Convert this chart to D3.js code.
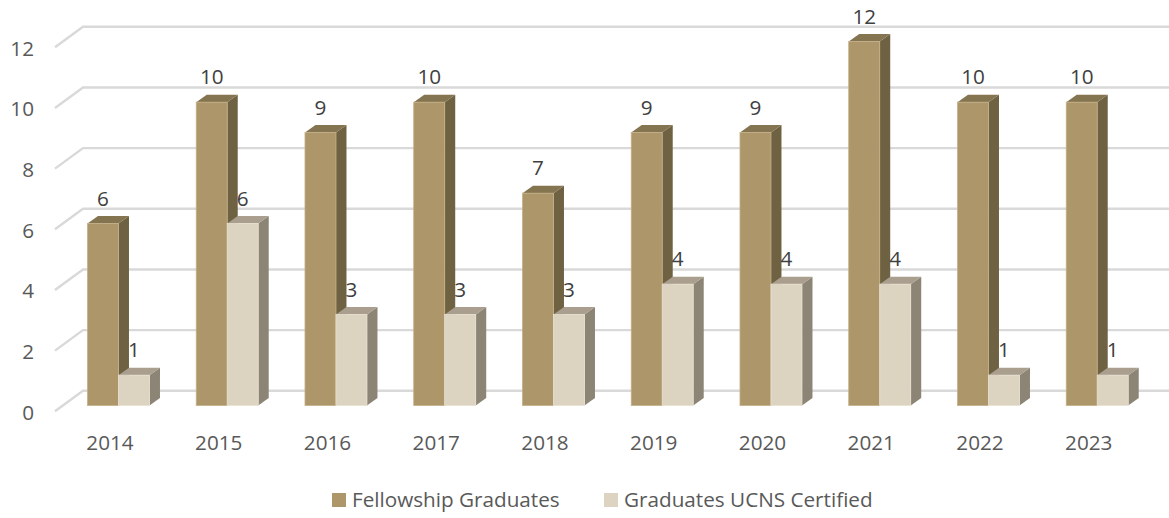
<!DOCTYPE html>
<html><head><meta charset="utf-8">
<script src="https://cdnjs.cloudflare.com/ajax/libs/d3/7.8.5/d3.min.js"></script>
<style>html,body{margin:0;padding:0;background:#fff}svg{display:block}text{font-family:"Open Sans",sans-serif}</style>
</head><body><svg id="c" width="1169" height="518"></svg>
<script>
const years=["2014","2015","2016","2017","2018","2019","2020","2021","2022","2023"];
const fellowship=[6,10,9,10,7,9,9,12,10,10];
const certified=[1,6,3,3,3,4,4,4,1,1];
const seriesNames=["Fellowship Graduates","Graduates UCNS Certified"];
const yTicks=[0,2,4,6,8,10,12];
const faces=[{front:"#ad9669",top:"#84744f",side:"#6f6243",edge:"#c4b08a"},
             {front:"#dcd3c0",top:"#aa9f8e",side:"#8c8575",edge:"#e8e1d2"}];
const depthX=10.5,depthY=7.5,fs=20.7;
const svg=d3.select("#c");
const y=d3.scaleLinear().domain([0,12]).range([405.5,41.5]);
const x=d3.scaleBand().domain(years).range([64.1,1151.6]).paddingInner(0.43).paddingOuter(0.215);
const inner=d3.scaleBand().domain([0,1]).range([0,x.bandwidth()]);
const grid=svg.append("g").attr("fill","none").attr("stroke","#d9d9d9").attr("stroke-width",2.4);
yTicks.forEach(t=>{
  const yb=y(t)-14.7;
  grid.append("path").attr("d",`M55,${yb+20.5}L83,${yb}H1169`);
});
svg.append("g").selectAll("text").data(yTicks).join("text")
 .attr("x",34).attr("y",d=>y(d)+14).attr("text-anchor","end")
 .attr("font-size",fs).attr("fill","#595959").text(d=>d);
const bars=svg.append("g");
years.forEach((yr,i)=>{
  [0,1].forEach(s=>{
    const v=s===0?fellowship[i]:certified[i];
    const x0=x(yr)+inner(s),w=inner.bandwidth(),t=y(v),b=y(0),f=faces[s];
    const g=bars.append("g");
    g.append("path").attr("fill",f.side).attr("d",`M${x0+w},${t}l${depthX},${-depthY}V${b-depthY}l${-depthX},${depthY}Z`);
    g.append("path").attr("fill",f.top).attr("d",`M${x0},${t}l${depthX},${-depthY}h${w}l${-depthX},${depthY}Z`);
    g.append("rect").attr("x",x0).attr("y",t).attr("width",w).attr("height",b-t).attr("fill",f.front)
      .attr("stroke",f.edge).attr("stroke-width",0.8);
    svg.append("text").attr("class","dl").attr("x",x0+w/2).attr("y",t-18).attr("text-anchor","middle")
      .attr("font-size",fs).attr("fill","#404040").text(v);
  });
});
svg.selectAll("text.dl").raise();
svg.append("g").selectAll("text").data(years).join("text")
 .attr("x",d=>x(d)+x.bandwidth()/2-8.5).attr("y",449.5).attr("text-anchor","middle")
 .attr("font-size",fs).attr("fill","#595959").text(d=>d);
const leg=svg.append("g");
seriesNames.forEach((n,i)=>{
  const lx=i===0?332:604;
  leg.append("rect").attr("x",lx).attr("y",493).attr("width",14).attr("height",14).attr("fill",faces[i].front);
  leg.append("text").attr("x",lx+20).attr("y",507).attr("font-size",fs).attr("fill","#595959").text(n);
});
</script></body></html>
